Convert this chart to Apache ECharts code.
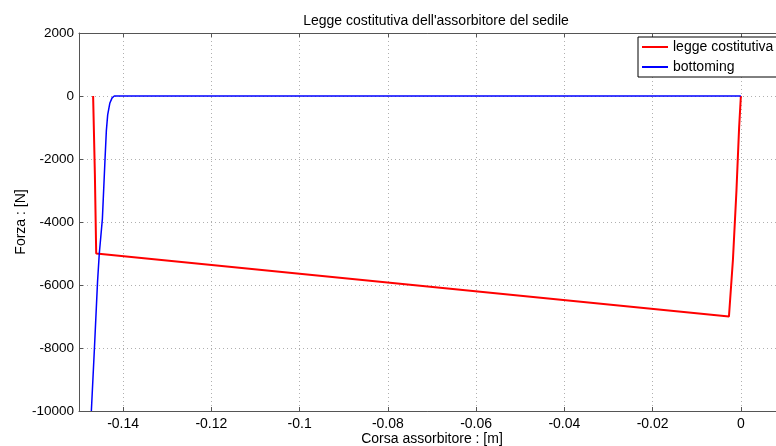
<!DOCTYPE html>
<html>
<head>
<meta charset="utf-8">
<script src="https://cdn.jsdelivr.net/npm/echarts@6/dist/echarts.min.js"></script>
<style>html,body{margin:0;padding:0;background:#fff;}#c{width:776px;height:446px;}</style>
</head>
<body>
<div id="c"></div>
<script>
var xTicks = [-0.14, -0.12, -0.1, -0.08, -0.06, -0.04, -0.02, 0];
var yTicks = [-10000, -8000, -6000, -4000, -2000, 0, 2000];
var seriesNames = ['legge costitutiva', 'bottoming'];
var leggeCostitutiva = [
  [-0.1468, 0], [-0.1464, -2500], [-0.1461, -5000], [-0.0027, -7000],
  [-0.0018, -5200], [-0.0010, -3000], [-0.0004, -1000], [0, 0]
];
var bottoming = [
  [0, 0], [-0.1420, 0], [-0.1425, -60], [-0.1430, -220], [-0.1435, -600],
  [-0.1438, -1100], [-0.1441, -2000], [-0.1447, -3900], [-0.1454, -5000],
  [-0.1458, -5900], [-0.1465, -8000], [-0.1472, -10000]
];

var chart = echarts.init(document.getElementById('c'), null, {renderer: 'canvas'});
var font = 'Liberation Sans, Arial, sans-serif';
var axisCol = '#555';
var gridLine = {show: true, lineStyle: {color: '#b0b0b0', type: [1, 3], width: 1}};
chart.setOption({
  animation: false,
  backgroundColor: '#fff',
  title: {
    text: "Legge costitutiva dell'assorbitore del sedile",
    left: 431, top: 9, textAlign: 'center',
    textStyle: {fontFamily: font, fontSize: 14, fontWeight: 'normal', color: '#000'}
  },
  legend: {
    data: seriesNames, orient: 'vertical', left: 638, top: 37,
    padding: [2, 30, 2, 4], itemGap: 4, itemWidth: 26, itemHeight: 2, icon: 'rect',
    backgroundColor: '#fff', borderColor: '#000', borderWidth: 1, borderRadius: 0,
    textStyle: {fontFamily: font, fontSize: 14, color: '#000', lineHeight: 16}
  },
  grid: {left: 79, top: 33, width: 706, height: 378, outerBoundsMode: 'none', containLabel: false},
  xAxis: [{
    type: 'value', min: -0.15, max: 0.01,
    name: 'Corsa assorbitore : [m]', nameLocation: 'middle', nameGap: 21, nameMoveOverlap: false,
    nameTextStyle: {fontFamily: font, fontSize: 14, color: '#000'},
    axisLine: {show: true, onZero: false, lineStyle: {color: axisCol}},
    axisTick: {show: true, inside: true, length: 4, customValues: xTicks, lineStyle: {color: axisCol}},
    axisLabel: {customValues: xTicks, fontFamily: font, fontSize: 14, color: '#000', margin: 6,
      formatter: function (v) { return String(Math.round(v * 100) / 100); }},
    splitLine: gridLine
  }, {
    type: 'value', min: -0.15, max: 0.01, position: 'top',
    axisLine: {show: true, onZero: false, lineStyle: {color: axisCol}},
    axisTick: {show: true, inside: true, length: 4, customValues: xTicks, lineStyle: {color: axisCol}},
    axisLabel: {show: false, customValues: xTicks},
    splitLine: {show: false}
  }],
  yAxis: [{
    type: 'value', min: -10000, max: 2000, interval: 2000,
    name: 'Forza : [N]', nameLocation: 'middle', nameGap: 51, nameMoveOverlap: false,
    nameTextStyle: {fontFamily: font, fontSize: 14, color: '#000'},
    axisLine: {show: true, onZero: false, lineStyle: {color: axisCol}},
    axisTick: {show: true, inside: true, length: 4, lineStyle: {color: axisCol}},
    axisLabel: {fontFamily: font, fontSize: 13.5, color: '#000', margin: 5,
      formatter: function (v) { return String(v); }},
    splitLine: gridLine
  }, {
    type: 'value', min: -10000, max: 2000, interval: 2000, position: 'right',
    axisLine: {show: true, onZero: false, lineStyle: {color: axisCol}},
    axisTick: {show: true, inside: true, length: 4, lineStyle: {color: axisCol}},
    axisLabel: {show: false}, splitLine: {show: false}
  }],
  series: [{
    name: seriesNames[0], type: 'line', data: leggeCostitutiva, symbol: 'none',
    lineStyle: {color: '#ff0000', width: 2}, itemStyle: {color: '#ff0000'}
  }, {
    name: seriesNames[1], type: 'line', data: bottoming, symbol: 'none',
    lineStyle: {color: '#0000ff', width: 1.5}, itemStyle: {color: '#0000ff'}
  }]
});
</script>
</body>
</html>
